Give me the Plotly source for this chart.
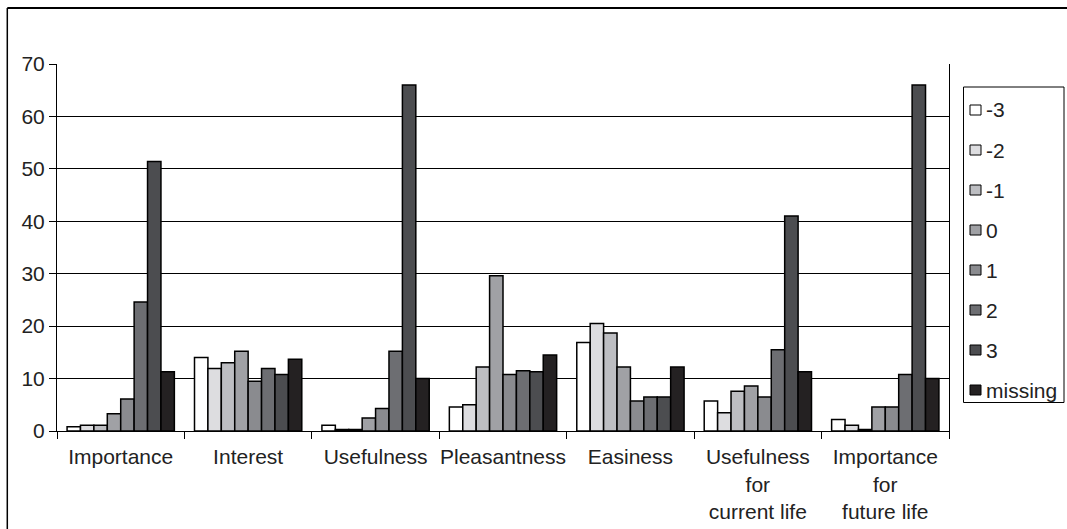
import plotly.graph_objects as go

categories = ["Importance", "Interest", "Usefulness", "Pleasantness", "Easiness",
              "Usefulness<br>for<br>current life", "Importance<br>for<br>future life"]

series_names = ["-3", "-2", "-1", "0", "1", "2", "3", "missing"]

s_m3 = [0.8, 14.0, 1.1, 4.6, 16.9, 5.7, 2.2]
s_m2 = [1.1, 11.9, 0.3, 5.0, 20.5, 3.5, 1.1]
s_m1 = [1.1, 13.0, 0.3, 12.2, 18.7, 7.6, 0.3]
s_0 = [3.3, 15.2, 2.5, 29.6, 12.2, 8.6, 4.6]
s_1 = [6.1, 9.5, 4.3, 10.8, 5.7, 6.5, 4.6]
s_2 = [24.6, 11.9, 15.2, 11.5, 6.5, 15.5, 10.8]
s_3 = [51.4, 10.8, 66.0, 11.3, 6.5, 41.0, 66.0]
s_missing = [11.3, 13.7, 10.0, 14.5, 12.2, 11.3, 10.0]

series_values = [s_m3, s_m2, s_m1, s_0, s_1, s_2, s_3, s_missing]
colors = ["#ffffff", "#dddde0", "#bdbec2", "#a0a1a5", "#8a8b8f", "#6d6e72", "#4c4d50", "#242122"]

FONT = "Liberation Sans, Arial, sans-serif"
FS = 21

fig = go.Figure()
for name, vals, col in zip(series_names, series_values, colors):
    fig.add_trace(go.Bar(
        x=categories, y=vals, name=name,
        marker=dict(color=col, line=dict(color="#000000", width=1.5)),
    ))

# plot area: x 57..949, y 64..431
L, R, T, B = 57, 949, 64, 431
W, H = 1067, 529

def px(xp):
    return (xp - L) / (R - L)

def py(yp):
    return (B - yp) / (B - T)

shapes = [
    dict(type="line", xref="paper", yref="paper", x0=px(7.3), x1=px(1075), y0=py(8), y1=py(8),
         line=dict(color="#000", width=2)),
    dict(type="line", xref="paper", yref="paper", x0=px(7.3), x1=px(7.3), y0=py(8), y1=py(540),
         line=dict(color="#000", width=1.5)),
    # legend box
    dict(type="rect", xref="paper", yref="paper", x0=px(963.5), x1=px(1064), y0=py(87), y1=py(402.5),
         line=dict(color="#000", width=1), fillcolor="white"),
]
annotations = []
for i, (name, col) in enumerate(zip(series_names, colors)):
    yc = 110 + 40 * i
    shapes.append(dict(type="rect", xref="paper", yref="paper",
                       x0=px(970), x1=px(981), y0=py(yc + 5), y1=py(yc - 5),
                       line=dict(color="#000", width=1), fillcolor=col))
    annotations.append(dict(xref="paper", yref="paper", x=px(984), y=py(yc),
                            xanchor="left", yanchor="middle", text=name, showarrow=False,
                            font=dict(family=FONT, size=FS, color="#222")))

fig.update_layout(
    width=W, height=H, autosize=False,
    margin=dict(l=L, r=W - R, t=T, b=H - B, autoexpand=False),
    paper_bgcolor="white", plot_bgcolor="white",
    font=dict(family=FONT, size=FS, color="#222"),
    barmode="group", bargap=0.158, bargroupgap=0,
    showlegend=False,
    shapes=shapes,
    annotations=annotations,
)
fig.update_xaxes(
    type="category", tickson="boundaries", ticks="outside", ticklen=7, tickcolor="#000",
    showline=True, linecolor="#000", linewidth=1, showgrid=False,
    tickangle=0, automargin=False, ticklabelstandoff=7,
    tickfont=dict(family=FONT, size=FS, color="#222"),
)
fig.update_yaxes(
    range=[0, 70], dtick=10, ticks="outside", ticklen=7, tickcolor="#000",
    showline=True, mirror=True, linecolor="#000", linewidth=1,
    showgrid=True, gridcolor="#000", gridwidth=1, zeroline=False, automargin=False,
    tickfont=dict(family=FONT, size=FS, color="#222"),
)

fig.write_html("out.html", config={"displayModeBar": False, "staticPlot": True},
               post_script="document.body.style.margin='0';document.body.style.overflow='hidden';")
